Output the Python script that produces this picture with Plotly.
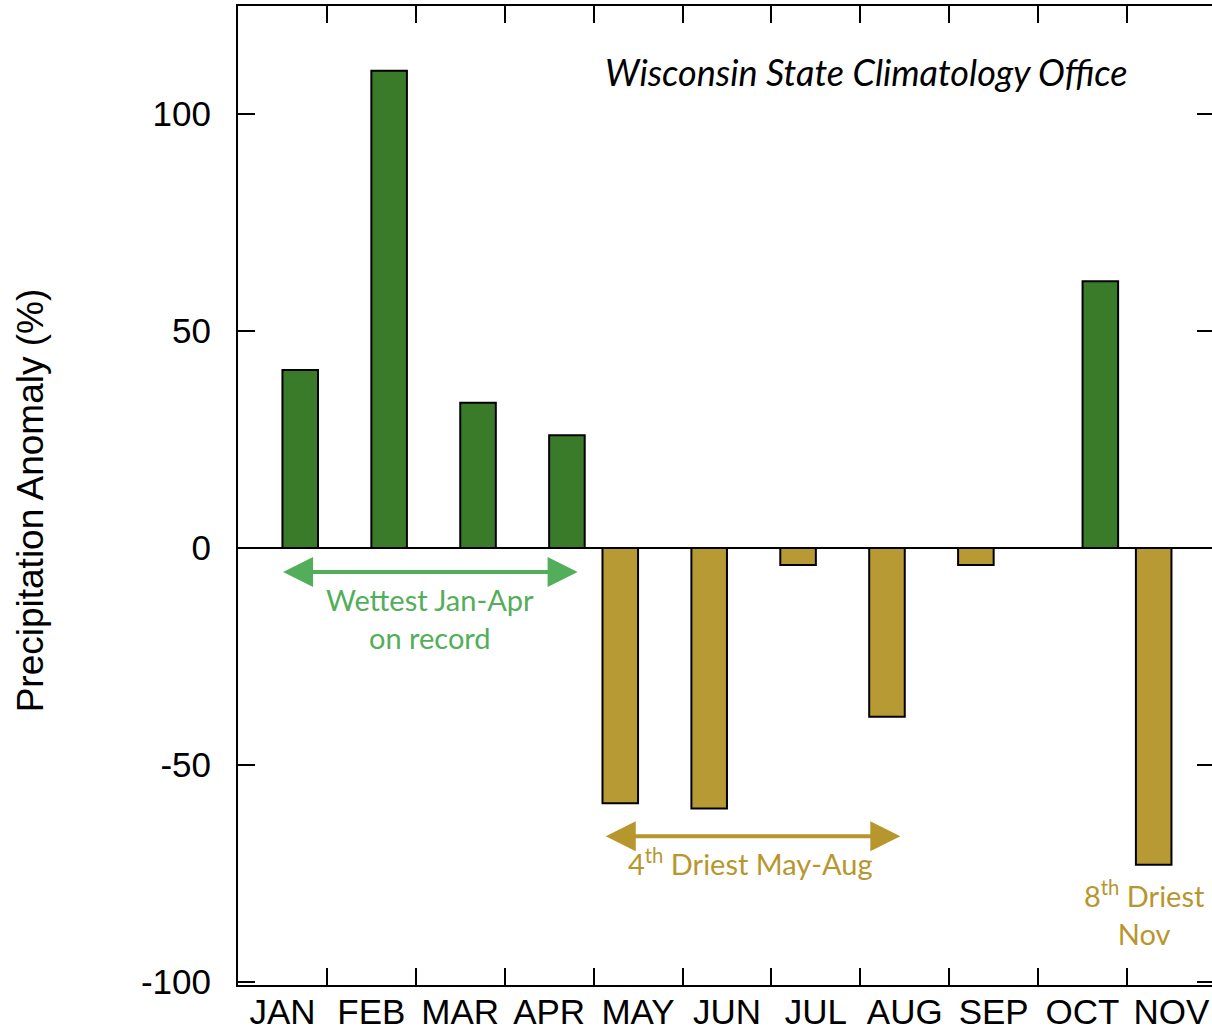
import plotly.graph_objects as go

# Monthly precipitation anomaly (%) for Wisconsin
months = ["JAN", "FEB", "MAR", "APR", "MAY", "JUN", "JUL", "AUG", "SEP", "OCT", "NOV"]
anomaly = [41, 110, 33.5, 26, -58.8, -60, -3.9, -38.9, -3.9, 61.5, -73]

wet = [v if v > 0 else None for v in anomaly]
dry = [v if v < 0 else None for v in anomaly]

y_tick_vals = [100, 50, 0, -50, -100]
y_tick_text = ["100", "50", "0", "-50", "-100"]

GREEN = "#3a7b2a"
GOLD = "#b89a34"
GREEN_TXT = "#52ae5a"
GOLD_TXT = "#b8962e"
AXIS_FONT = "Liberation Sans, Arial, sans-serif"
NOTE_FONT = "Lato, Open Sans, sans-serif"

fig = go.Figure()
fig.add_trace(go.Bar(x=months, y=dry, marker=dict(color=GOLD, line=dict(color="black", width=2)),
                     showlegend=False))
fig.add_trace(go.Bar(x=months, y=wet, marker=dict(color=GREEN, line=dict(color="black", width=2)),
                     showlegend=False))
# invisible trace to carry the right-hand tick marks
fig.add_trace(go.Scatter(x=[months[0]], y=[0], yaxis="y2", mode="markers",
                         marker=dict(opacity=0), showlegend=False, hoverinfo="skip"))

yrange = [-100.7, 124.9]

fig.update_layout(
    width=1212, height=1034,
    margin=dict(l=238, r=0, t=6, b=49),
    paper_bgcolor="white", plot_bgcolor="white",
    barmode="group", bargap=0.2, bargroupgap=0.0,
    xaxis=dict(
        type="category", range=[-0.5, 10.456], automargin=False,
        tickson="boundaries", ticks="inside", ticklen=17, tickwidth=2, tickcolor="black",
        showline=True, linecolor="black", linewidth=2, mirror="ticks",
        showgrid=False, zeroline=False,
        tickfont=dict(family=AXIS_FONT, size=35, color="black"),
        ticklabelstandoff=-5,
    ),
    yaxis=dict(
        range=yrange, tickvals=y_tick_vals, ticktext=y_tick_text, automargin=False,
        ticks="inside", ticklen=17, tickwidth=2, tickcolor="black",
        showline=True, linecolor="black", linewidth=2, mirror=False,
        showgrid=False, zeroline=True, zerolinecolor="black", zerolinewidth=2,
        tickfont=dict(family=AXIS_FONT, size=35, color="black"),
        ticklabelstandoff=18,
    ),
    yaxis2=dict(
        range=yrange, overlaying="y", side="right", tickvals=y_tick_vals, automargin=False,
        ticks="inside", ticklen=15, tickwidth=2, tickcolor="black",
        showticklabels=False, showline=False, showgrid=False, zeroline=False,
    ),
)

annotations = [
    dict(text="Precipitation Anomaly (%)", xref="paper", yref="paper", x=-0.2136, y=0.495,
         xanchor="center", yanchor="middle",
         textangle=-90, showarrow=False, font=dict(family=AXIS_FONT, size=37, color="black")),
    dict(text="<i>Wisconsin State Climatology Office</i>", xref="paper", yref="paper",
         x=0.645, y=0.933, xanchor="center", yanchor="middle",
         showarrow=False, font=dict(family=NOTE_FONT, size=36, color="black")),
    # double-headed arrows marking the wet and dry spells
    dict(x=3.32, y=-5.5, ax=-0.01, ay=-5.5, xref="x", yref="y", axref="x", ayref="y",
         text="", showarrow=True, arrowhead=2, startarrowhead=2, arrowside="end+start",
         arrowsize=1.5, startarrowsize=1.5, arrowwidth=4, arrowcolor=GREEN_TXT),
    dict(x=6.95, y=-66.4, ax=3.62, ay=-66.4, xref="x", yref="y", axref="x", ayref="y",
         text="", showarrow=True, arrowhead=2, startarrowhead=2, arrowside="end+start",
         arrowsize=1.5, startarrowsize=1.5, arrowwidth=4, arrowcolor=GOLD_TXT),
    dict(text="Wettest Jan-Apr<br>on record", x=1.66, y=-16.2, xref="x", yref="y",
         showarrow=False, font=dict(family=NOTE_FONT, size=29, color=GREEN_TXT)),
    dict(text="4<sup>th</sup> Driest May-Aug", x=5.27, y=-72.4, xref="x", yref="y",
         showarrow=False, font=dict(family=NOTE_FONT, size=29, color=GOLD_TXT)),
    dict(text="8<sup>th</sup> Driest<br>Nov", x=9.70, y=-84.0, xref="x", yref="y",
         showarrow=False, font=dict(family=NOTE_FONT, size=29, color=GOLD_TXT)),
]
fig.update_layout(annotations=annotations)

fig.write_html("out.html")
